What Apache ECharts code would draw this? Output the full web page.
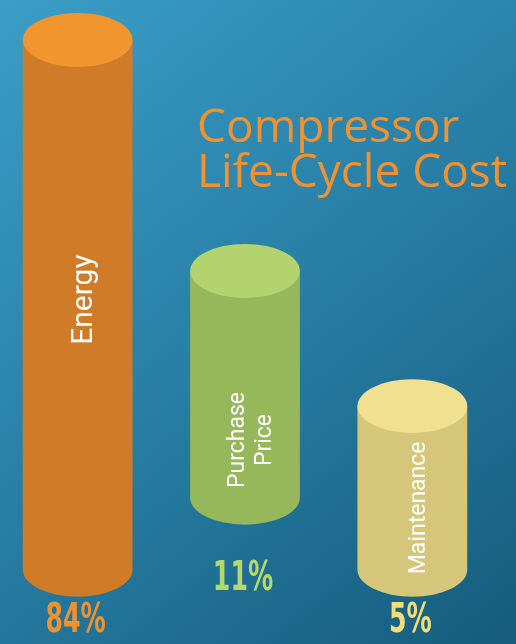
<!DOCTYPE html>
<html>
<head>
<meta charset="utf-8">
<script src="https://cdn.jsdelivr.net/npm/echarts@6/dist/echarts.min.js"></script>
<style>
  html, body { margin: 0; padding: 0; }
  #lifeCycle { width: 516px; height: 644px; }
</style>
</head>
<body>
<div id="lifeCycle"></div>
<script>
// data
const categories = ['Energy', 'Purchase\nPrice', 'Maintenance'];
const shares = [84, 11, 5];              // percent of life-cycle cost
const cylinderTop = [100, 56.4, 30.9];   // top of each cylinder (axis units)
const cylinderBase = [0, 13.6, 0];       // bottom of each cylinder
const nameAt = [51, 24.5, 11.7];         // where the rotated name sits
const shareAt = [-9.8, -1.9, -9.8];      // where the percentage sits

const bodyColors = ['#cf7b28', '#97b85a', '#d5c67a'];
const capColors = ['#f1952f', '#b3d36f', '#f1e08f'];
const shareColors = ['#f0922f', '#b5d86a', '#f3dc7a'];
const nameSizes = [30, 23, 23];

const chart = echarts.init(document.getElementById('lifeCycle'));

const seriesData = categories.map(function (c, i) {
  return [i, cylinderBase[i], cylinderTop[i], nameAt[i], shareAt[i], shares[i]];
});

function renderCylinder(params, api) {
  const i = api.value(0);
  const base = api.coord([i, api.value(1)]);
  const top = api.coord([i, api.value(2)]);
  const nameP = api.coord([i, api.value(3)]);
  const shareP = api.coord([i, api.value(4)]);
  const band = api.size([1, 0])[0];
  const rx = band * 0.328;
  const ry = rx * 0.49;
  const cx = top[0];
  const body = 'M' + (cx - rx) + ' ' + top[1] +
    ' L' + (cx - rx) + ' ' + base[1] +
    ' A' + rx + ' ' + ry + ' 0 0 0 ' + (cx + rx) + ' ' + base[1] +
    ' L' + (cx + rx) + ' ' + top[1] + ' Z';
  return {
    type: 'group',
    children: [
      {
        type: 'path',
        shape: { pathData: body },
        style: { fill: bodyColors[i] }
      },
      {
        type: 'ellipse',
        shape: { cx: cx, cy: top[1], rx: rx, ry: ry },
        style: { fill: capColors[i] }
      },
      {
        type: 'text',
        x: nameP[0] + 7,
        y: nameP[1],
        rotation: Math.PI / 2,
        style: {
          text: categories[i],
          fill: '#ffffff',
          font: 'normal ' + nameSizes[i] + 'px Roboto',
          align: 'center',
          verticalAlign: 'middle',
          lineHeight: nameSizes[i] + 4
        }
      },
      {
        type: 'text',
        x: shareP[0] - 2,
        y: shareP[1],
        scaleX: 0.7,
        style: {
          text: api.value(5) + '%',
          fill: shareColors[i],
          font: 'bold 40px "DejaVu Sans Condensed", sans-serif',
          align: 'center',
          verticalAlign: 'middle'
        }
      }
    ]
  };
}

chart.setOption({
  backgroundColor: {
    type: 'linear', x: 0, y: 0, x2: 1, y2: 1,
    colorStops: [
      { offset: 0, color: '#3a9ec7' },
      { offset: 0.5, color: '#287ea5' },
      { offset: 1, color: '#155c7d' }
    ]
  },
  title: {
    text: 'Compressor\nLife-Cycle Cost',
    left: 192,
    top: 101,
    textStyle: {
      color: '#f0922f',
      fontFamily: 'Open Sans',
      fontWeight: 'normal',
      fontSize: 46,
      lineHeight: 45
    }
  },
  grid: { left: -6, width: 502, top: 40, bottom: 0, outerBoundsMode: 'none' },
  xAxis: {
    type: 'category',
    data: categories,
    show: false
  },
  yAxis: {
    type: 'value',
    min: -14,
    max: 100,
    show: false
  },
  series: [
    {
      type: 'custom',
      renderItem: renderCylinder,
      encode: { x: 0, y: [1, 2] },
      data: seriesData
    }
  ]
});
</script>
</body>
</html>
